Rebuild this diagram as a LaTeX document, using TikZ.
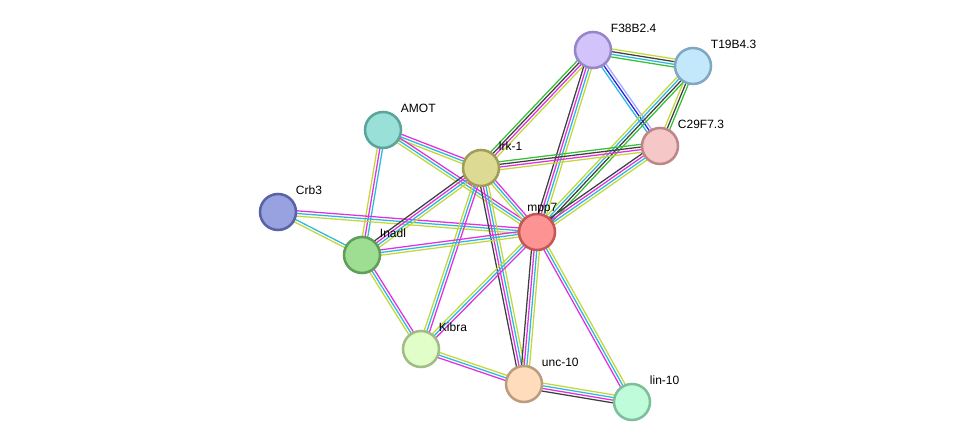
\documentclass[tikz,border=0pt]{standalone}
\usepackage{fontspec}
\setmainfont{Liberation Sans}
\usetikzlibrary{calc,backgrounds}
\definecolor{tm}{HTML}{C2D83A}
\definecolor{db}{HTML}{2BB8DE}
\definecolor{ex}{HTML}{E030E0}
\definecolor{co}{HTML}{404040}
\definecolor{nb}{HTML}{38C038}
\definecolor{cooc}{HTML}{2020F0}
\definecolor{hom}{HTML}{A8A8F8}
\newcommand{\edgebundle}[3]{%
  \foreach \col [count=\k] in {#3} {\xdef\nlines{\k}}
  \foreach \col [count=\k] in {#3} {
    \pgfmathsetmacro{\off}{(\k-(\nlines+1)/2)*2}
    \draw[edgeline,\col] ($(#1)!\off pt!90:(#2)$) -- ($(#2)!\off pt!-90:(#1)$);
  }}
\begin{document}
\begin{tikzpicture}[x=0.75pt,y=-0.75pt,line join=round,line cap=round]
  \tikzset{protein/.style={circle,minimum size=27pt,inner sep=0pt,line width=1.9pt},
    edgeline/.style={line width=0.95pt},
    lbl/.style={font=\fontsize{9}{10}\selectfont,inner sep=0.5pt,label distance=0.5pt,xshift=2.2pt,yshift=1.5pt}}
  \useasboundingbox (0,0) rectangle (975,448);
  \node[protein,fill={rgb,255:red,210;green,196;blue,250},draw={rgb,255:red,152;green,132;blue,200},label={[lbl]45:F38B2.4}] (f38b) at (593,50) {};
  \node[protein,fill={rgb,255:red,196;green,232;blue,251},draw={rgb,255:red,128;green,168;blue,194},label={[lbl]45:T19B4.3}] (t19b) at (693,66) {};
  \node[protein,fill={rgb,255:red,246;green,199;blue,199},draw={rgb,255:red,190;green,134;blue,134},label={[lbl]45:C29F7.3}] (c29f) at (660,146) {};
  \node[protein,fill={rgb,255:red,153;green,224;blue,216},draw={rgb,255:red,92;green,164;blue,154},label={[lbl]45:AMOT}] (amot) at (383,130) {};
  \node[protein,fill={rgb,255:red,221;green,218;blue,148},draw={rgb,255:red,160;green,157;blue,91},label={[lbl]45:lrk-1}] (lrk) at (481,168) {};
  \node[protein,fill={rgb,255:red,152;green,162;blue,224},draw={rgb,255:red,88;green,98;blue,164},label={[lbl]45:Crb3}] (crb) at (278,212) {};
  \node[protein,fill={rgb,255:red,254;green,147;blue,147},draw={rgb,255:red,196;green,86;blue,86},label={[lbl,xshift=1.8pt,yshift=-3.8pt]90:mpp7}] (mpp) at (537,232) {};
  \node[protein,fill={rgb,255:red,158;green,222;blue,146},draw={rgb,255:red,94;green,158;blue,88},label={[lbl]45:Inadl}] (inadl) at (362,255) {};
  \node[protein,fill={rgb,255:red,225;green,253;blue,200},draw={rgb,255:red,162;green,188;blue,136},label={[lbl]45:Kibra}] (kibra) at (421,349) {};
  \node[protein,fill={rgb,255:red,254;green,220;blue,188},draw={rgb,255:red,189;green,156;blue,125},label={[lbl]45:unc-10}] (unc) at (524,384) {};
  \node[protein,fill={rgb,255:red,191;green,252;blue,218},draw={rgb,255:red,125;green,190;blue,155},label={[lbl]45:lin-10}] (lin) at (632,402) {};
  \begin{pgfonlayer}{background}
    \edgebundle{f38b}{t19b}{nb,db,co,tm}
    \edgebundle{f38b}{c29f}{db,cooc,hom}
    \edgebundle{f38b}{lrk}{nb,co,ex,tm}
    \edgebundle{f38b}{mpp}{co,ex,db,tm}
    \edgebundle{t19b}{c29f}{tm,co,nb}
    \edgebundle{t19b}{mpp}{tm,db,co,nb}
    \edgebundle{c29f}{lrk}{nb,co,ex,tm}
    \edgebundle{c29f}{mpp}{co,ex,db,tm}
    \edgebundle{amot}{lrk}{tm,db,ex}
    \edgebundle{amot}{mpp}{tm,db,ex}
    \edgebundle{amot}{inadl}{tm,ex,db}
    \edgebundle{crb}{mpp}{tm,db,ex}
    \edgebundle{crb}{inadl}{tm,db}
    \edgebundle{lrk}{inadl}{co,ex,db,tm}
    \edgebundle{lrk}{mpp}{tm,db,ex}
    \edgebundle{lrk}{kibra}{tm,db,ex}
    \edgebundle{lrk}{unc}{co,ex,db,tm}
    \edgebundle{mpp}{inadl}{ex,db,tm}
    \edgebundle{mpp}{kibra}{tm,db,ex}
    \edgebundle{mpp}{unc}{co,ex,db,tm}
    \edgebundle{mpp}{lin}{ex,db,tm}
    \edgebundle{inadl}{kibra}{tm,db,ex}
    \edgebundle{kibra}{unc}{ex,db,tm}
    \edgebundle{unc}{lin}{co,ex,db,tm}
  \end{pgfonlayer}
\end{tikzpicture}
\end{document}
